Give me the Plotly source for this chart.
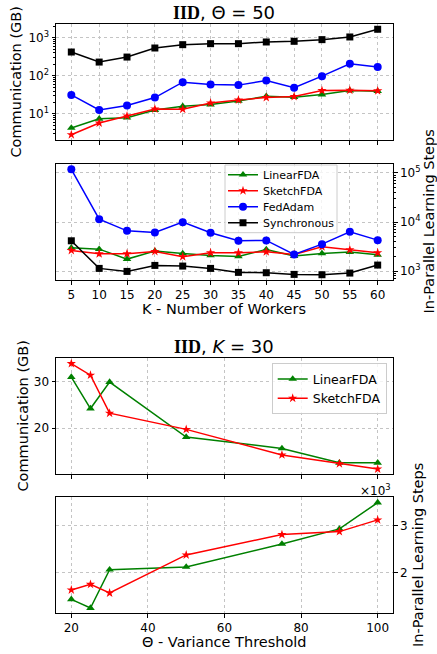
import math
import plotly.graph_objects as go

# ---------------- data ----------------
K = [5, 10, 15, 20, 25, 30, 35, 40, 45, 50, 55, 60]
comm_linear = [4.3, 7.5, 8.0, 12.7, 15.9, 17.6, 22.0, 29.2, 27.5, 32.3, 41.1, 39.5]
comm_sketch = [2.86, 5.8, 8.9, 13.5, 13.3, 19.5, 23.3, 26.9, 28.6, 41.1, 42.0, 40.3]
comm_fedadam = [31.6, 12.7, 16.6, 26.9, 68, 59, 57, 75, 49, 98, 207, 169]
comm_sync = [420, 229, 310, 535, 654, 695, 695, 769, 801, 886, 1041, 1656]

steps_linear = [2985, 2800, 1754, 2553, 2287, 2083, 1988, 2762, 2019, 2287, 2433, 2147]
steps_sketch = [2630, 2252, 2252, 2512, 1960, 2360, 2360, 2472, 2183, 3126, 2717, 2360]
steps_fedadam = [118800, 11430, 6610, 6110, 9930, 6025, 4140, 4210, 2183, 3540, 6310, 4270]
steps_sync = [4140, 1133, 984, 1304, 1264, 1133, 940, 925, 855, 842, 910, 1324]

theta = [20, 25, 30, 50, 75, 90, 100]
comm_theta_linear = [31.0, 24.2, 29.9, 18.06, 15.6, 12.5, 12.5]
comm_theta_sketch = [33.9, 31.4, 23.2, 19.7, 14.2, 12.3, 11.15]
steps_theta_linear = [1433, 1248, 2064, 2121, 2610, 2929, 3489]
steps_theta_sketch = [1631, 1752, 1567, 2376, 2809, 2872, 3121]

names = ["LinearFDA", "SketchFDA", "FedAdam", "Synchronous"]
colors = ["#008000", "#ff0000", "#0000ff", "#000000"]
symbols = ["triangle-up", "star", "circle", "square"]
msizes = [7.5, 7, 8, 7]

W, H = 437, 654
FONT = "DejaVu Sans"


def px(x):
    return x / W


def py(y):
    return 1 - y / H


def lin_range(vals, margin=0.05):
    lo, hi = min(vals), max(vals)
    d = (hi - lo) * margin
    return [lo - d, hi + d]


def log_range(vals, margin=0.05):
    lo, hi = math.log10(min(vals)), math.log10(max(vals))
    d = (hi - lo) * margin
    return [lo - d, hi + d]


fig = go.Figure()

# one legend per entry for the K panel so the entries can sit closer together
k_legends = ["legend", "legend3", "legend4", "legend5"]

comm_K = [comm_linear, comm_sketch, comm_fedadam, comm_sync]
steps_K = [steps_linear, steps_sketch, steps_fedadam, steps_sync]
for i in range(4):
    fig.add_trace(go.Scatter(
        x=K, y=comm_K[i], name=names[i], mode="lines+markers",
        line=dict(color=colors[i], width=1.5),
        marker=dict(symbol=symbols[i], size=msizes[i], color=colors[i]),
        xaxis="x", yaxis="y", showlegend=False))
for i in range(4):
    fig.add_trace(go.Scatter(
        x=K, y=steps_K[i], name=names[i], mode="lines+markers",
        line=dict(color=colors[i], width=1.5),
        marker=dict(symbol=symbols[i], size=msizes[i], color=colors[i]),
        xaxis="x2", yaxis="y2", showlegend=True, legend=k_legends[i]))

comm_T = [comm_theta_linear, comm_theta_sketch]
steps_T = [[v / 1000 for v in steps_theta_linear], [v / 1000 for v in steps_theta_sketch]]
for i in range(2):
    fig.add_trace(go.Scatter(
        x=theta, y=comm_T[i], name=names[i], mode="lines+markers",
        line=dict(color=colors[i], width=1.5),
        marker=dict(symbol=symbols[i], size=msizes[i], color=colors[i]),
        xaxis="x3", yaxis="y3", showlegend=True, legend="legend2"))
for i in range(2):
    fig.add_trace(go.Scatter(
        x=theta, y=steps_T[i], name=names[i], mode="lines+markers",
        line=dict(color=colors[i], width=1.5),
        marker=dict(symbol=symbols[i], size=msizes[i], color=colors[i]),
        xaxis="x4", yaxis="y4", showlegend=False))

xdom = [px(56), px(393)]
doms = [[py(140), py(24)], [py(280), py(164)], [py(474.3), py(358.3)], [py(613.3), py(497.3)]]

common = dict(
    showline=True, linecolor="black", linewidth=1, mirror=True,
    ticks="outside", ticklen=3.5, tickwidth=0.8, tickcolor="black",
    showgrid=True, gridcolor="#c4c4c4", griddash="dot", gridwidth=0.8,
    zeroline=False, tickfont=dict(family=FONT, size=12, color="black"),
)

minor_log = dict(ticks="outside", ticklen=2, tickwidth=0.6, tickcolor="black", showgrid=False)


def minor_vals(lo, hi):
    out = []
    for e in range(int(math.floor(lo)) - 1, int(math.ceil(hi)) + 1):
        for m in range(2, 10):
            v = m * 10 ** e
            if lo <= math.log10(v) <= hi:
                out.append(v)
    return out


r1 = log_range(comm_linear + comm_sketch + comm_fedadam + comm_sync)
r2 = log_range(steps_linear + steps_sketch + steps_fedadam + steps_sync)
r3 = lin_range(comm_theta_linear + comm_theta_sketch)
r4 = lin_range(steps_T[0] + steps_T[1])
xrK = lin_range(K)
xrT = lin_range(theta)

legend_rows = [174.7, 190.7, 206.7, 222.7]
leg_cfg = {}
for i, lg in enumerate(k_legends):
    leg_cfg[lg] = dict(x=px(223), y=py(legend_rows[i]), xanchor="left", yanchor="middle",
                       bgcolor="rgba(0,0,0,0)", borderwidth=0,
                       font=dict(family=FONT, size=11, color="black"), itemwidth=30)

fig.update_layout(
    width=W, height=H, margin=dict(l=0, r=0, t=0, b=0),
    plot_bgcolor="white", paper_bgcolor="white",
    font=dict(family=FONT, color="black"),
    xaxis=dict(common, domain=xdom, anchor="y", range=xrK, tickvals=K, showticklabels=False),
    xaxis2=dict(common, domain=xdom, anchor="y2", range=xrK, tickvals=K),
    xaxis3=dict(common, domain=xdom, anchor="y3", range=xrT, tickvals=[20, 40, 60, 80, 100], showticklabels=False),
    xaxis4=dict(common, domain=xdom, anchor="y4", range=xrT, tickvals=[20, 40, 60, 80, 100]),
    yaxis=dict(common, domain=doms[0], anchor="x", type="log", range=r1,
               tickvals=[10, 100, 1000], ticktext=["10<sup>1</sup>", "10<sup>2</sup>", "10<sup>3</sup>"],
               minor=dict(minor_log, tickvals=minor_vals(*r1))),
    yaxis2=dict(common, domain=doms[1], anchor="x2", side="right", type="log", range=r2,
                tickvals=[1000, 10000, 100000], ticktext=["10<sup>3</sup>", "10<sup>4</sup>", "10<sup>5</sup>"],
                minor=dict(minor_log, tickvals=minor_vals(*r2))),
    yaxis3=dict(common, domain=doms[2], anchor="x3", range=r3, tickvals=[10, 20, 30]),
    yaxis4=dict(common, domain=doms[3], anchor="x4", side="right", range=r4, tickvals=[2, 3]),
    legend2=dict(x=px(271.7), y=py(363.3), xanchor="left", yanchor="top",
                 bgcolor="rgba(255,255,255,0.8)", bordercolor="#cccccc", borderwidth=1,
                 font=dict(family=FONT, size=12.5, color="black"), itemwidth=30, tracegroupgap=0),
    **leg_cfg,
)

# legend frame for the K panel
fig.add_shape(type="rect", xref="paper", yref="paper",
              x0=px(225), x1=px(337), y0=py(232.7), y1=py(165),
              fillcolor="rgba(255,255,255,0.8)", line=dict(color="#cccccc", width=1), layer="above")

ann = []
title_font = dict(family=FONT, size=18, color="black")
ann.append(dict(text="<span style=\"font-family:'Liberation Serif'\"><b>IID</b></span>, Θ = 50",
                x=px(224.5), y=py(12), xref="paper", yref="paper", showarrow=False,
                xanchor="center", yanchor="middle", font=title_font))
ann.append(dict(text="<span style=\"font-family:'Liberation Serif'\"><b>IID</b></span>, <i>K</i> = 30",
                x=px(224.5), y=py(346), xref="paper", yref="paper", showarrow=False,
                xanchor="center", yanchor="middle", font=title_font))
lab_font = dict(family=FONT, size=14.5, color="black")
ann.append(dict(text="Communication (GB)", x=px(15.5), y=py(82), xref="paper", yref="paper",
                showarrow=False, textangle=-90, xanchor="center", yanchor="middle", font=lab_font))
ann.append(dict(text="Communication (GB)", x=px(22.5), y=py(416), xref="paper", yref="paper",
                showarrow=False, textangle=-90, xanchor="center", yanchor="middle", font=lab_font))
ann.append(dict(text="In-Parallel Learning Steps", x=px(428.5), y=py(222), xref="paper", yref="paper",
                showarrow=False, textangle=-90, xanchor="center", yanchor="middle", font=lab_font))
ann.append(dict(text="In-Parallel Learning Steps", x=px(418), y=py(555), xref="paper", yref="paper",
                showarrow=False, textangle=-90, xanchor="center", yanchor="middle", font=lab_font))
ann.append(dict(text="K - Number of Workers", x=px(224.5), y=py(309), xref="paper", yref="paper",
                showarrow=False, xanchor="center", yanchor="middle", font=lab_font))
ann.append(dict(text="Θ - Variance Threshold", x=px(224.5), y=py(641.5), xref="paper", yref="paper",
                showarrow=False, xanchor="center", yanchor="middle", font=lab_font))
ann.append(dict(text="×10<sup>3</sup>", x=px(393), y=py(490), xref="paper", yref="paper",
                showarrow=False, xanchor="right", yanchor="middle",
                font=dict(family=FONT, size=12, color="black")))
fig.update_layout(annotations=ann)

fig.write_html("out.html")
